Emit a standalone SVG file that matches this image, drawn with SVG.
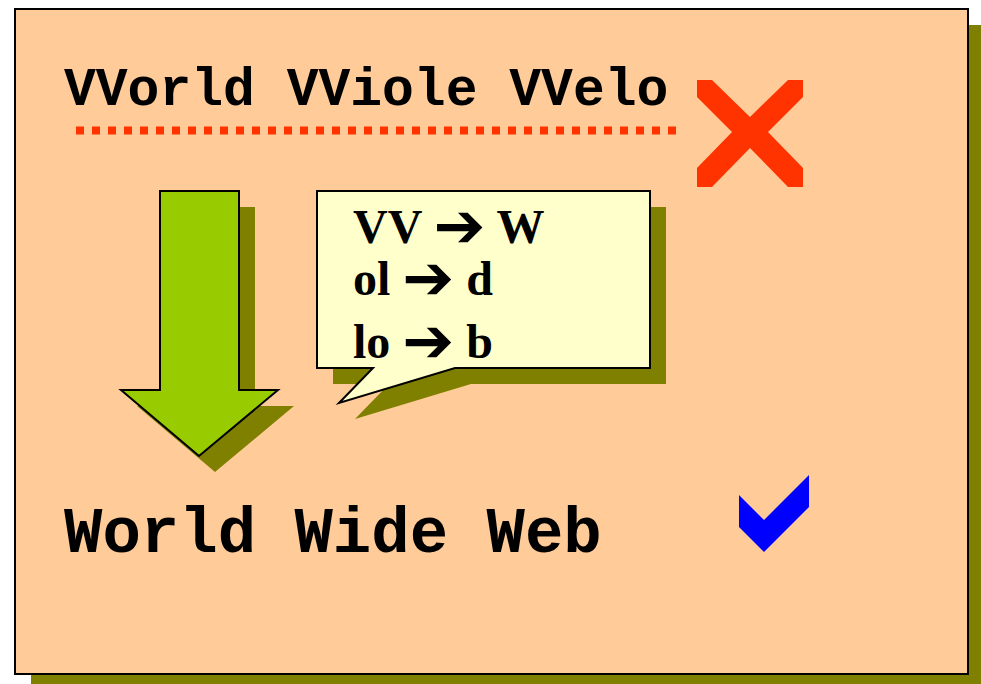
<svg xmlns="http://www.w3.org/2000/svg" width="981" height="684" viewBox="0 0 981 684">
<style>
.shadow{fill:#808000;stroke:none}
.mono{font-family:"Liberation Mono","Courier New",monospace;font-weight:bold;fill:#000}
.serif{font-family:"Liberation Serif","Times New Roman",serif;font-weight:bold;font-size:48px;fill:#000}
.arr{font-family:"DejaVu Sans",sans-serif;font-weight:bold;font-size:62px}
</style>
<rect width="981" height="684" fill="#ffffff"/>
<g id="frame">
<rect class="shadow" x="31" y="25" width="953" height="665"/>
<rect x="15" y="9" width="953" height="665" fill="#FFCC99" stroke="#000" stroke-width="2"/>
</g>
<g id="wrong-text">
<text class="mono" x="64" y="105" font-size="53">VVorld VViole VVelo</text>
<line x1="76" y1="130.5" x2="676" y2="130.5" stroke="#FF3300" stroke-width="8" stroke-dasharray="8 8"/>
</g>
<g id="cross">
<polygon fill="#FF3300" points="697,80 712,80 750,117 788,80 803,80 803,97 768,132 803,168 803,187 788,187 750,148 712,187 697,187 697,168 732,132 697,97"/>
</g>
<g id="down-arrow">
<polygon class="shadow" points="176,207 255,207 255,406 294,406 215,472 137,406 176,406"/>
<polygon fill="#99CC00" stroke="#000" stroke-width="2" points="160,191 239,191 239,390 278,390 199,456 121,390 160,390"/>
</g>
<g id="callout">
<polygon class="shadow" points="333,207 666,207 666,384 471,384 355,419 389,384 333,384"/>
<polygon fill="#FFFFCC" stroke="#000" stroke-width="2" points="317,191 650,191 650,368 455,368 339,403 373,368 317,368"/>
<text class="serif" x="353" y="243">VV <tspan class="arr" dy="4">➔</tspan><tspan dy="-4"> W</tspan></text>
<text class="serif" x="353" y="295">ol <tspan class="arr" dy="4">➔</tspan><tspan dy="-4"> d</tspan></text>
<text class="serif" x="353" y="358">lo <tspan class="arr" dy="4">➔</tspan><tspan dy="-4"> b</tspan></text>
</g>
<g id="right-text">
<text class="mono" x="64" y="552" font-size="64">World Wide Web</text>
</g>
<g id="check">
<polygon fill="#0000FF" points="739,495 764,520 809,475 809,507 764,552 739,527"/>
</g>
<g id="connectors"></g>
</svg>
